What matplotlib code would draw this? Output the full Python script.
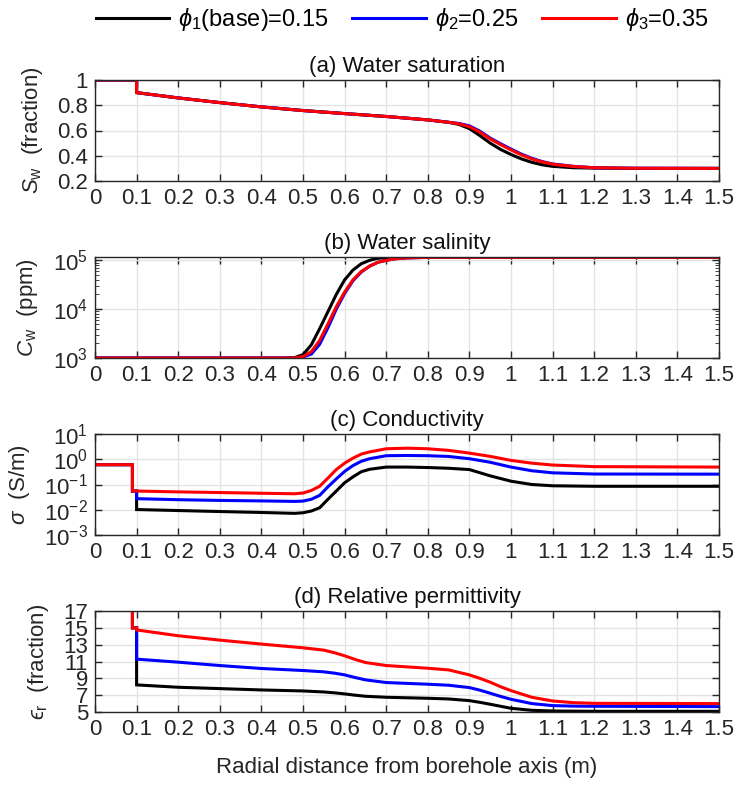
import numpy as np
import matplotlib
matplotlib.use("Agg")
import matplotlib.pyplot as plt
from matplotlib.ticker import FixedLocator, LogLocator, NullFormatter

plt.rcParams['font.family'] = ['Liberation Sans', 'DejaVu Sans']
plt.rcParams['mathtext.fontset'] = 'custom'
plt.rcParams['mathtext.rm'] = 'Liberation Sans'
plt.rcParams['mathtext.it'] = 'Liberation Sans:italic'
plt.rcParams['font.size'] = 16

labels = [r'$\phi_1$(base)=0.15', r'$\phi_2$=0.25', r'$\phi_3$=0.35']
colors = ['#000000', '#0000FF', '#FF0000']

# (a) water saturation
x_sw = [0, 0.1, 0.1, 0.2, 0.3, 0.4, 0.5, 0.6, 0.7, 0.8, 0.85, 0.875, 0.9, 0.925,
        0.95, 0.975, 1.0, 1.025, 1.05, 1.075, 1.1, 1.15, 1.2, 1.3, 1.5]
sw_1 = [1, 1, 0.9, 0.858, 0.821, 0.787, 0.758, 0.734, 0.711, 0.684, 0.665, 0.648, 0.615,
        0.56, 0.50, 0.45, 0.41, 0.375, 0.348, 0.328, 0.316, 0.305, 0.302, 0.3, 0.3]
sw_2 = [1, 1, 0.9, 0.858, 0.821, 0.787, 0.758, 0.734, 0.711, 0.684, 0.665, 0.656, 0.637,
        0.595, 0.54, 0.495, 0.453, 0.413, 0.38, 0.354, 0.335, 0.316, 0.305, 0.301, 0.3]
sw_3 = [1, 1, 0.9, 0.858, 0.821, 0.787, 0.758, 0.734, 0.711, 0.684, 0.665, 0.653, 0.63,
        0.588, 0.533, 0.488, 0.446, 0.407, 0.375, 0.351, 0.333, 0.315, 0.305, 0.301, 0.3]

# (b) water salinity, ppm
x_cw = [0, 0.45, 0.48, 0.5, 0.52, 0.54, 0.56, 0.58, 0.6, 0.62, 0.64, 0.66, 0.68, 0.7,
        0.72, 0.75, 0.8, 1.5]
cw_1 = [1000, 1000, 1020, 1170, 1860, 3980, 8900, 20000, 39800, 63100, 85100, 100000,
        110000, 113500, 115000, 115000, 115000, 115000]
cw_2 = [1000, 1000, 1000, 1050, 1200, 1910, 4170, 10000, 20900, 38000, 57500, 75900,
        91200, 100000, 107000, 112000, 115000, 115000]
cw_3 = [1000, 1000, 1000, 1070, 1350, 2290, 5010, 11200, 22400, 39800, 58900, 75900,
        91200, 100000, 107000, 112000, 115000, 115000]

# (c) conductivity, S/m
x_sig = [0, 0.09, 0.09, 0.1, 0.1, 0.2, 0.3, 0.4, 0.48, 0.5, 0.52, 0.54, 0.56, 0.58, 0.6,
         0.62, 0.64, 0.66, 0.7, 0.75, 0.8, 0.85, 0.9, 0.95, 1.0, 1.05, 1.1, 1.2, 1.5]
sig_1 = [0.61, 0.61, 0.055, 0.055, 0.0102, 0.0093, 0.0085, 0.0078, 0.0072, 0.0076, 0.0089,
         0.012, 0.026, 0.055, 0.117, 0.2, 0.32, 0.4, 0.49, 0.49, 0.47, 0.44, 0.39, 0.22,
         0.135, 0.1, 0.089, 0.085, 0.085]
sig_2 = [0.61, 0.61, 0.055, 0.055, 0.0275, 0.025, 0.0234, 0.0224, 0.0214, 0.022, 0.026,
         0.037, 0.081, 0.166, 0.33, 0.56, 0.83, 1.05, 1.38, 1.41, 1.38, 1.29, 1.05, 0.76,
         0.49, 0.35, 0.29, 0.26, 0.257]
sig_3 = [0.61, 0.61, 0.055, 0.055, 0.055, 0.051, 0.048, 0.045, 0.043, 0.046, 0.058, 0.085,
         0.18, 0.39, 0.7, 1.1, 1.6, 1.95, 2.6, 2.75, 2.6, 2.25, 1.75, 1.3, 0.9, 0.7, 0.59,
         0.51, 0.49]

# (d) relative permittivity
x_eps = [0, 0.09, 0.09, 0.1, 0.1, 0.2, 0.3, 0.4, 0.5, 0.55, 0.575, 0.6, 0.625, 0.65, 0.7,
         0.8, 0.85, 0.9, 0.925, 0.95, 0.975, 1.0, 1.05, 1.1, 1.15, 1.2, 1.5]
eps_1 = [80, 80, 15, 15, 8.22, 7.94, 7.78, 7.62, 7.5, 7.38, 7.28, 7.15, 7.0, 6.87, 6.75,
         6.63, 6.55, 6.35, 6.15, 5.92, 5.68, 5.44, 5.2, 5.12, 5.1, 5.08, 5.08]
eps_2 = [80, 80, 15, 15, 11.28, 10.92, 10.52, 10.17, 9.93, 9.77, 9.62, 9.41, 9.1, 8.82, 8.5,
         8.3, 8.18, 7.9, 7.6, 7.23, 6.85, 6.51, 6.0, 5.76, 5.7, 5.68, 5.64]
eps_3 = [80, 80, 15, 15, 14.75, 14.06, 13.54, 13.07, 12.63, 12.35, 12.05, 11.68, 11.25,
         10.88, 10.52, 10.2, 10.0, 9.41, 9.0, 8.54, 8.0, 7.54, 6.75, 6.31, 6.11, 6.03, 6.0]

xticks = np.round(np.arange(0, 1.51, 0.1), 1)
xticklabels = ['%g' % v for v in xticks]

fig = plt.figure(figsize=(7.38, 7.86), dpi=100)
W, H = 738, 786
left, width = 95 / W, (719 - 95) / W
tops = [80, 257, 434, 611]
axes = [fig.add_axes([left, 1 - (t + 101) / H, width, 101 / H]) for t in tops]

panels = [
    (x_sw, [sw_1, sw_2, sw_3], '(a) Water saturation', r'$S_{\rm w}$  (fraction)'),
    (x_cw, [cw_1, cw_2, cw_3], '(b) Water salinity', r'$C_{\rm w}$  (ppm)'),
    (x_sig, [sig_1, sig_2, sig_3], '(c) Conductivity', r'$\sigma$  (S/m)'),
    (x_eps, [eps_1, eps_2, eps_3], '(d) Relative permittivity', r'$ϵ_{\rm r}$  (fraction)'),
]

spine_c = '#262626'
for ax, (xs, ys, title, ylab) in zip(axes, panels):
    for y, c, lab in zip(ys, colors, labels):
        ax.plot(xs, y, color=c, lw=2.2, label=lab, solid_joinstyle='miter')
    ax.set_xlim(0, 1.5)
    ax.set_xticks(xticks)
    ax.set_xticklabels(xticklabels)
    ax.set_title(title, fontsize=16, pad=6, color='#111111')
    ax.set_ylabel(ylab, fontsize=16, color='#262626', labelpad=9)
    ax.grid(True, color='#e3e3e3', lw=1)
    ax.set_axisbelow(True)
    ax.tick_params(direction='in', top=True, right=True, length=5, width=1,
                   colors=spine_c, labelsize=16, pad=5)
    ax.tick_params(which='minor', direction='in', right=True, length=3, colors=spine_c)
    for s in ax.spines.values():
        s.set_color(spine_c)
        s.set_linewidth(1)

ax = axes[0]
ax.set_ylim(0.2, 1.0)
ax.set_yticks([0.2, 0.4, 0.6, 0.8, 1.0])
ax.set_yticklabels(['0.2', '0.4', '0.6', '0.8', '1'])

ax = axes[1]
ax.set_yscale('log')
ax.set_ylim(1e3, 1.17e5)
ax.yaxis.set_major_locator(FixedLocator([1e3, 1e4, 1e5]))
ax.yaxis.set_minor_locator(LogLocator(base=10, subs=np.arange(2, 10)))
ax.yaxis.set_minor_formatter(NullFormatter())

ax = axes[2]
ax.set_yscale('log')
ax.set_ylim(1e-3, 1e1)
ax.yaxis.set_major_locator(FixedLocator([1e-3, 1e-2, 1e-1, 1e0, 1e1]))
ax.yaxis.set_minor_locator(LogLocator(base=10, subs=np.arange(2, 10)))
ax.yaxis.set_minor_formatter(NullFormatter())

ax = axes[3]
ax.set_ylim(5, 17)
ax.set_yticks([5, 7, 9, 11, 13, 15, 17])
ax.set_xlabel('Radial distance from borehole axis (m)', fontsize=16, labelpad=12,
              color='#262626')

handles, labs = axes[0].get_legend_handles_labels()
fig.legend(handles, labs, loc='center', bbox_to_anchor=(0.545, 0.975), ncol=3,
           frameon=False, handlelength=3.1, columnspacing=1.0, handletextpad=0.4,
           fontsize=17)

fig.savefig('out.png', dpi=100)
